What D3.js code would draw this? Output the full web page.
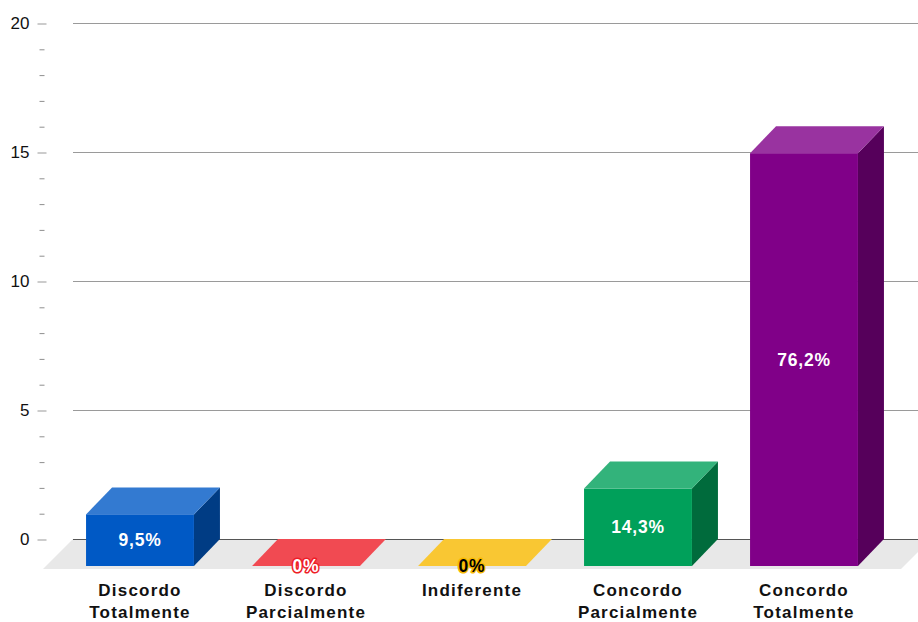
<!DOCTYPE html>
<html>
<head>
<meta charset="utf-8">
<script src="https://cdn.jsdelivr.net/npm/d3@7"></script>
<style>
  html, body { margin: 0; padding: 0; background: #fff; }
  svg { display: block; font-family: "Liberation Sans", Arial, sans-serif; }
</style>
</head>
<body>
<svg id="chart" width="918" height="622"></svg>
<script>
// Survey answers: number of respondents per option
const categories = [
  ["Discordo", "Totalmente"],
  ["Discordo", "Parcialmente"],
  ["Indiferente"],
  ["Concordo", "Parcialmente"],
  ["Concordo", "Totalmente"]
];
const counts = [2, 0, 0, 3, 16];
const barColors = ["#0059c5", "#ee1d27", "#f8b900", "#00a05a", "#800088"];
const yTicks = [0, 5, 10, 15, 20];

const total = d3.sum(counts);
const pctLabel = v => {
  if (v === 0) return "0%";
  return d3.format(".1f")(v / total * 100).replace(".", ",") + "%";
};

const svg = d3.select("#chart");

// Scales live on the back plane; the front faces are shifted by the depth offset
const depthX = 26, depthY = 27;
const y = d3.scaleLinear().domain([0, 20]).range([539, 23]);
const x = d3.scaleBand()
  .domain(d3.range(categories.length))
  .range([83, 913])
  .paddingInner(0.35)
  .paddingOuter(0.175);
const w = x.bandwidth();
const y0 = y(0);

const lighten = c => d3.interpolateRgb(c, "#ffffff")(0.2);
const darken = c => { const k = d3.rgb(c); return d3.rgb(k.r * 0.67, k.g * 0.67, k.b * 0.67).formatHex(); };

// Gridlines
svg.append("g")
  .selectAll("line")
  .data(yTicks.filter(t => t !== 0))
  .join("line")
  .attr("x1", 73).attr("x2", 918)
  .attr("y1", d => y(d) + 0.5).attr("y2", d => y(d) + 0.5)
  .attr("stroke", "#9a9a9a").attr("stroke-width", 1);

// Minor ticks
const minorAxis = d3.axisLeft(y)
  .tickValues(d3.range(0, 21).filter(v => v % 5 !== 0))
  .tickSize(5).tickFormat("");
svg.append("g")
  .attr("transform", "translate(44.5,0.5)")
  .call(minorAxis)
  .call(g => g.select(".domain").remove())
  .call(g => g.selectAll("line").attr("stroke", "#8f8f8f"));

// Major ticks with labels
const majorAxis = d3.axisLeft(y)
  .tickValues(yTicks)
  .tickSize(9).tickPadding(8);
svg.append("g")
  .attr("transform", "translate(46.5,0.5)")
  .call(majorAxis)
  .call(g => g.select(".domain").remove())
  .call(g => g.selectAll("line").attr("stroke", "#999999"))
  .call(g => g.selectAll("text")
    .attr("fill", "#111")
    .style("font-size", "17px")
    .style("font-family", "'Liberation Sans', Arial, sans-serif"));

// Floor
const floorDepth = 30;
svg.append("path")
  .attr("d", d3.line()([
    [73, y0], [931, y0], [931 - floorDepth, y0 + floorDepth], [73 - floorDepth, y0 + floorDepth]
  ]) + "Z")
  .attr("fill", "#e8e8e8");

// Zero baseline
svg.append("line")
  .attr("x1", 73).attr("x2", 918)
  .attr("y1", y0 + 0.5).attr("y2", y0 + 0.5)
  .attr("stroke", "#555555").attr("stroke-width", 1);

// Bars as extruded boxes
const bars = svg.append("g")
  .selectAll("g")
  .data(counts.map((v, i) => ({ v, i, color: barColors[i] })))
  .join("g");

bars.each(function(d) {
  const g = d3.select(this);
  const xb = x(d.i);
  const yt = y(d.v);
  const fx = xb - depthX;
  // side face
  if (d.v > 0) {
    g.append("path")
      .attr("d", d3.line()([
        [xb + w - depthX, yt + depthY], [xb + w, yt], [xb + w, y0], [xb + w - depthX, y0 + depthY]
      ]) + "Z")
      .attr("fill", darken(d.color));
  }
  // top face
  g.append("path")
    .attr("d", d3.line()([
      [fx, yt + depthY], [xb, yt], [xb + w, yt], [xb + w - depthX, yt + depthY]
    ]) + "Z")
    .attr("fill", lighten(d.color));
  // front face
  if (d.v > 0) {
    g.append("rect")
      .attr("x", fx).attr("y", yt + depthY)
      .attr("width", w).attr("height", y0 - yt)
      .attr("fill", d.color);
  }
});

// Value labels centred on the front face
bars.append("text")
  .attr("x", d => x(d.i) - depthX + w / 2)
  .attr("y", d => (y(d.v) + y0) / 2 + depthY)
  .attr("text-anchor", "middle")
  .attr("dominant-baseline", "central")
  .style("font-size", "17.5px")
  .style("font-weight", "bold")
  .style("letter-spacing", "0.8px")
  .attr("fill", d => d3.hsl(d.color).l > 0.45 && d3.rgb(d.color).g > 150 ? "#000" : "#fff")
  .attr("stroke", d => d.color)
  .attr("stroke-width", 3)
  .attr("stroke-linejoin", "round")
  .attr("paint-order", "stroke")
  .text(d => pctLabel(d.v));

// Category labels
svg.append("g")
  .selectAll("text")
  .data(categories)
  .join("text")
  .attr("x", (d, i) => x(i) - depthX + w / 2)
  .attr("y", 596)
  .attr("text-anchor", "middle")
  .style("font-size", "17px")
  .style("font-weight", "bold")
  .style("letter-spacing", "1.2px")
  .attr("fill", "#111")
  .selectAll("tspan")
  .data(d => d)
  .join("tspan")
  .attr("x", function() { return d3.select(this.parentNode).attr("x"); })
  .attr("dy", (d, j) => j === 0 ? 0 : 22)
  .text(d => d);
</script>
</body>
</html>
